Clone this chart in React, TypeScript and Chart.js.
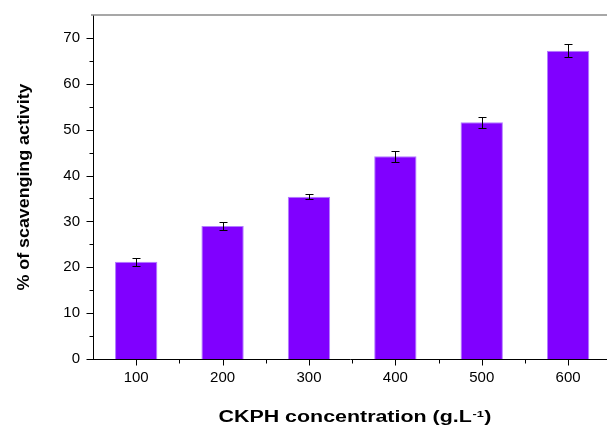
import React, { useEffect, useRef } from 'react';
import { Chart, registerables } from 'chart.js';

Chart.register(...registerables);

// ---- data ----
const concentrations = [100, 200, 300, 400, 500, 600];
const scavenging = [21.2, 29.0, 35.4, 44.2, 51.6, 67.2];
const scavengingErr = [0.85, 0.85, 0.55, 1.15, 1.2, 1.45];
const yMajorTicks = [0, 10, 20, 30, 40, 50, 60, 70];
const yMinorTicks = [5, 15, 25, 35, 45, 55, 65];
const xMajorTicks = [100, 200, 300, 400, 500, 600];
const xMinorTicks = [150, 250, 350, 450, 550];
const xTitleMain = 'CKPH concentration (g.L';
const xTitleSup = '-1';
const xTitleEnd = ')';
const yTitle = '% of scavenging activity';

const FONT = '"Liberation Sans", Arial, Helvetica, sans-serif';

const decorPlugin = {
  id: 'decor',
  afterDatasetsDraw(chart: any) {
    const ctx = chart.ctx;
    const xs = chart.scales.x;
    const ys = chart.scales.y;
    ctx.save();
    ctx.strokeStyle = '#000';
    ctx.lineWidth = 1;
    concentrations.forEach((c, i) => {
      const px = Math.round(xs.getPixelForValue(c)) + 0.5;
      const top = Math.round(ys.getPixelForValue(scavenging[i] + scavengingErr[i])) + 0.5;
      const bot = Math.round(ys.getPixelForValue(scavenging[i] - scavengingErr[i])) + 0.5;
      ctx.beginPath();
      ctx.moveTo(px, top);
      ctx.lineTo(px, bot);
      ctx.moveTo(px - 4, top);
      ctx.lineTo(px + 4, top);
      ctx.moveTo(px - 4, bot);
      ctx.lineTo(px + 4, bot);
      ctx.stroke();
    });
    ctx.restore();
  },
  afterDraw(chart: any) {
    const ctx = chart.ctx;
    const xs = chart.scales.x;
    const ys = chart.scales.y;
    const area = chart.chartArea;
    ctx.save();
    // top frame line (gray)
    ctx.strokeStyle = '#8a8a8a';
    ctx.lineWidth = 1.5;
    ctx.beginPath();
    ctx.moveTo(area.left - 2, area.top);
    ctx.lineTo(chart.width, area.top);
    ctx.stroke();

    // ticks
    ctx.strokeStyle = '#000';
    ctx.lineWidth = 1;
    const ax = Math.round(area.left) + 0.5;
    const ay = Math.round(area.bottom) + 0.5;
    ctx.beginPath();
    yMajorTicks.forEach((v) => {
      const py = Math.round(ys.getPixelForValue(v)) + 0.5;
      ctx.moveTo(ax - 7, py);
      ctx.lineTo(ax, py);
    });
    yMinorTicks.forEach((v) => {
      const py = Math.round(ys.getPixelForValue(v)) + 0.5;
      ctx.moveTo(ax - 4, py);
      ctx.lineTo(ax, py);
    });
    xMajorTicks.forEach((v) => {
      const px = Math.round(xs.getPixelForValue(v)) + 0.5;
      ctx.moveTo(px, ay);
      ctx.lineTo(px, ay + 6);
    });
    xMinorTicks.forEach((v) => {
      const px = Math.round(xs.getPixelForValue(v)) + 0.5;
      ctx.moveTo(px, ay);
      ctx.lineTo(px, ay + 4);
    });
    ctx.stroke();

    // x title (stretched horizontally like the original)
    ctx.fillStyle = '#000';
    ctx.textAlign = 'left';
    ctx.textBaseline = 'alphabetic';
    const mainFont = 'bold 16px ' + FONT;
    const supFont = 'bold 9.5px ' + FONT;
    ctx.font = mainFont;
    const w1 = ctx.measureText(xTitleMain).width;
    const w3 = ctx.measureText(xTitleEnd).width;
    ctx.font = supFont;
    const w2 = ctx.measureText(xTitleSup).width;
    const total = w1 + w2 + w3 + 1;
    const targetW = 273;
    const sx = targetW / total;
    const cx = 355;
    const baseY = 422;
    ctx.save();
    ctx.translate(cx - targetW / 2, baseY);
    ctx.scale(sx, 1);
    ctx.font = mainFont;
    ctx.fillText(xTitleMain, 0, 0);
    ctx.font = supFont;
    ctx.fillText(xTitleSup, w1 + 0.5, -5.5);
    ctx.font = mainFont;
    ctx.fillText(xTitleEnd, w1 + w2 + 1, 0);
    ctx.restore();

    // y title (rotated)
    ctx.save();
    const yFont = 'bold 17px ' + FONT;
    ctx.font = yFont;
    const wy = ctx.measureText(yTitle).width;
    const targetL = 207;
    ctx.translate(24, 187);
    ctx.rotate(-Math.PI / 2);
    ctx.scale(targetL / wy, 1);
    ctx.textAlign = 'center';
    ctx.textBaseline = 'middle';
    ctx.fillText(yTitle, 0, 0);
    ctx.restore();

    ctx.restore();
  },
};

export default function App() {
  const canvasRef = useRef<HTMLCanvasElement | null>(null);

  useEffect(() => {
    const canvas = canvasRef.current;
    if (!canvas) return;
    const chart = new Chart(canvas, {
      type: 'bar',
      data: {
        datasets: [
          {
            data: concentrations.map((c, i) => ({ x: c, y: scavenging[i] })),
            backgroundColor: '#8000ff',
            borderColor: '#b27dff',
            borderWidth: 1,
            barPercentage: 0.49,
            categoryPercentage: 1,
          },
        ],
      },
      options: {
        responsive: false,
        animation: false,
        layout: { padding: { top: 15, right: 0, bottom: 0, left: 0 } },
        plugins: {
          legend: { display: false },
          tooltip: { enabled: false },
          title: { display: false },
        },
        scales: {
          x: {
            type: 'linear',
            position: 'bottom',
            offset: false,
            min: 50,
            max: 645,
            afterBuildTicks: (scale: any) => {
              scale.ticks = xMajorTicks.map((v) => ({ value: v }));
            },
            afterFit: (scale: any) => {
              scale.height = 71;
              scale.paddingLeft = 0;
              scale.paddingRight = 0;
            },
            grid: { display: false, drawTicks: false, offset: false },
            border: { display: true, color: '#000', width: 1 },
            ticks: {
              padding: 10,
              color: '#000',
              font: { family: FONT, size: 15 },
              maxRotation: 0,
              autoSkip: false,
              callback: (v: any) => String(v),
            },
          },
          y: {
            type: 'linear',
            min: 0,
            max: 75,
            afterBuildTicks: (scale: any) => {
              scale.ticks = yMajorTicks.map((v) => ({ value: v }));
            },
            afterFit: (scale: any) => {
              scale.width = 93;
              scale.paddingTop = 0;
              scale.paddingBottom = 0;
            },
            grid: { display: false, drawTicks: false },
            border: { display: true, color: '#000', width: 1 },
            ticks: {
              padding: 13,
              color: '#000',
              font: { family: FONT, size: 15 },
              autoSkip: false,
              callback: (v: any) => String(v),
            },
          },
        },
      },
      plugins: [decorPlugin],
    });
    return () => chart.destroy();
  }, []);

  return (
    <div style={{ position: 'absolute', left: 0, top: 0, width: 607, height: 430, background: '#fff' }}>
      <canvas ref={canvasRef} width={607} height={430} style={{ display: 'block' }} />
    </div>
  );
}
